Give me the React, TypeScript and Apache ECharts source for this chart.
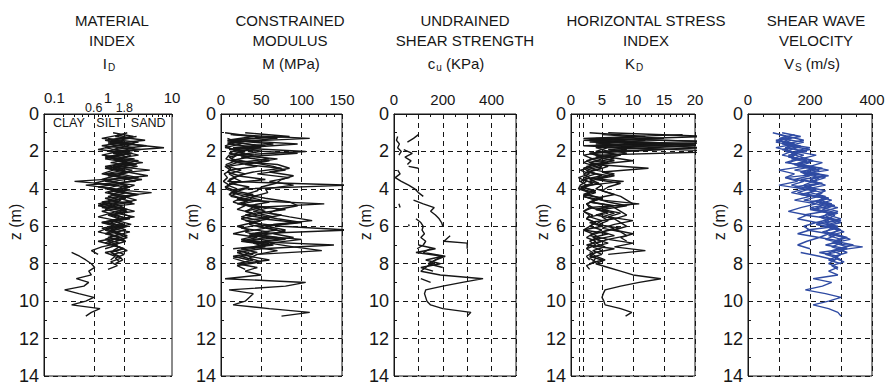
import React, { useEffect, useRef } from "react";
import * as echarts from "echarts";

const FONT = '"Liberation Sans", Arial, Helvetica, sans-serif';
const INK = "#161616";
const BLUE = "#2f4ba3";

// ---- depths of the soundings (m) ----
const DEPTH_S1 = [1.0, 1.2, 1.4, 1.6, 1.8, 2.0, 2.2, 2.4, 2.6, 2.8, 3.0, 3.2, 3.4, 3.6, 3.8, 4.0, 4.2, 4.4, 4.6, 4.8, 5.0, 5.2, 5.4, 5.6, 5.8, 6.0, 6.2, 6.4, 6.6, 6.8, 7.0, 7.2, 7.4, 7.6, 7.8, 8.0];
const DEPTH_S2 = [1.1, 1.3, 1.5, 1.7, 1.9, 2.1, 2.3, 2.5, 2.7, 2.9, 3.1, 3.3, 3.5, 3.7, 3.9, 4.1, 4.3, 4.5, 4.7, 4.9, 5.1, 5.3, 5.5, 5.7, 5.9, 6.1, 6.3, 6.5, 6.7, 6.9, 7.1, 7.3, 7.5];
const DEPTH_S3 = [1.0, 1.2, 1.4, 1.6, 1.8, 2.0, 2.2, 2.4, 2.6, 2.8, 3.0, 3.2, 3.4, 3.6, 3.8, 4.0, 4.2, 4.4, 4.6, 4.8, 5.0, 5.2, 5.4, 5.6, 5.8, 6.0, 6.2, 6.4, 6.6, 6.8, 7.0, 7.2];
const DEPTH_S4 = [1.3, 1.5, 1.7, 1.9, 2.1, 2.3, 2.5, 2.7, 2.9, 3.1, 3.3, 3.5, 3.7, 3.9, 4.1, 4.3, 4.5, 4.7, 4.9, 5.1, 5.3, 5.5, 5.7, 5.9, 6.1, 6.3, 6.5, 6.7, 6.9, 7.1, 7.3, 7.5, 7.7, 7.9, 8.1, 8.3];
const DEPTH_S5 = [1.2, 1.4, 1.6, 1.8, 2.0, 2.2, 2.4, 2.6, 2.8, 3.0, 3.2, 3.4, 3.6, 3.8, 4.0, 4.2, 4.4, 4.6, 4.8, 5.0, 5.2, 5.4, 5.6, 5.8, 6.0, 6.2, 6.4, 6.6, 6.8];
const DEPTH_S6 = [7.4, 7.6, 7.8, 8.0, 8.2, 8.4, 8.6, 8.8, 9.0, 9.2, 9.4, 9.6, 9.8, 10.0, 10.2, 10.4, 10.6, 10.8];
const DEPTH_S7 = [1.1, 1.3, 1.5, 1.7, 1.9, 2.1, 2.3, 2.5, 2.7, 2.9, 3.1, 3.3, 3.5, 3.7, 3.9, 4.1, 4.3, 4.5, 4.7, 4.9, 5.1, 5.3, 5.5, 5.7, 5.9, 6.1, 6.3, 6.5, 6.7, 6.9, 7.1, 7.3, 7.5, 7.7, 7.9];
const DEPTH_S8 = [1.4, 1.6, 1.8, 2.0, 2.2, 2.4, 2.6, 2.8, 3.0, 3.2, 3.4, 3.6, 3.8, 4.0, 4.2, 4.4, 4.6, 4.8, 5.0, 5.2, 5.4, 5.6, 5.8, 6.0, 6.2, 6.4, 6.6, 6.8, 7.0, 7.2, 7.4, 7.6, 7.8];

// ---- Material index I_D ----
const ID_S1 = [1.2, 2.5, 0.9, 2.0, 7.5, 1.1, 1.8, 0.9, 2.2, 1.3, 4.5, 1.0, 2.4, 0.3, 1.5, 0.9, 4.8, 1.6, 1.0, 2.6, 0.8, 1.9, 1.2, 2.2, 0.9, 1.8, 1.1, 1.6, 1.0, 1.9, 1.2, 1.7, 1.1, 1.5, 1.7, 1.3];
const ID_S2 = [1.6, 0.8, 3.0, 1.2, 0.7, 2.4, 1.0, 3.0, 1.4, 0.9, 2.0, 4.2, 1.1, 0.6, 2.1, 1.3, 2.8, 0.9, 1.5, 0.7, 1.8, 1.1, 0.7, 1.4, 2.3, 1.0, 0.7, 1.3, 0.9, 1.5, 0.8, 0.55, 0.7];
const ID_S3 = [2.0, 1.3, 3.8, 1.0, 2.6, 1.5, 0.8, 2.6, 1.1, 2.9, 1.2, 0.8, 1.7, 0.9, 2.6, 1.8, 1.0, 2.2, 1.3, 0.7, 1.6, 2.6, 1.0, 1.5, 0.8, 2.0, 1.3, 0.9, 1.6, 1.0, 1.4, 0.9];
const ID_S4 = [1.0, 1.8, 0.8, 3.2, 1.2, 2.0, 1.3, 2.5, 1.0, 2.2, 1.3, 0.8, 1.6, 0.7, 1.8, 1.1, 1.9, 0.8, 1.3, 0.9, 1.6, 2.3, 1.2, 1.8, 0.8, 1.3, 2.0, 1.2, 0.9, 1.5, 2.0, 1.2, 1.6, 1.1, 1.4, 1.0];
const ID_S5 = [2.8, 1.1, 2.2, 0.9, 1.7, 3.0, 1.2, 1.9, 0.9, 2.4, 1.5, 3.0, 1.2, 2.0, 1.4, 0.9, 1.7, 2.8, 1.2, 1.8, 0.8, 1.4, 1.9, 1.1, 1.6, 0.9, 1.4, 2.0, 1.3];
const ID_S6 = [0.27, 0.36, 0.45, 0.55, 0.62, 0.5, 0.55, 0.32, 0.5, 0.42, 0.21, 0.35, 0.6, 0.45, 0.27, 0.75, 0.55, 0.45];
const ID_S7 = [1.4, 2.2, 1.0, 4.0, 1.3, 2.0, 0.9, 1.7, 2.8, 1.2, 2.0, 1.0, 3.4, 1.4, 2.2, 1.1, 3.0, 1.5, 2.4, 1.0, 2.0, 1.3, 2.6, 1.1, 1.7, 1.0, 2.2, 1.3, 1.8, 1.0, 1.5, 1.2, 1.8, 1.3, 1.5];
const ID_S8 = [1.1, 2.6, 1.5, 1.0, 2.3, 1.4, 3.5, 1.2, 1.8, 0.9, 1.6, 2.7, 0.45, 1.3, 2.0, 1.0, 1.6, 0.8, 1.4, 2.0, 1.1, 1.7, 0.8, 1.3, 1.9, 1.0, 1.5, 0.7, 1.2, 1.8, 0.9, 1.3, 1.1];

// ---- Constrained modulus M (MPa) ----
const M_S1 = [30, 85, 10, 65, 15, 105, 20, 12, 40, 8, 25, 10, 18, 8, 160, 30, 15, 45, 20, 128, 40, 55, 30, 60, 35, 75, 160, 40, 70, 30, 140, 50, 20, 35, 60, 25];
const M_S2 = [15, 110, 8, 55, 20, 10, 35, 12, 70, 85, 60, 90, 75, 68, 50, 45, 30, 55, 85, 95, 70, 60, 85, 113, 65, 55, 80, 45, 100, 60, 90, 125, 45];
const M_S3 = [5, 40, 8, 25, 5, 30, 10, 6, 20, 5, 12, 4, 8, 3, 10, 6, 20, 12, 35, 20, 50, 30, 45, 25, 40, 20, 35, 15, 45, 25, 60, 15];
const M_S4 = [8, 20, 5, 15, 30, 10, 18, 6, 12, 8, 22, 10, 15, 5, 18, 10, 25, 15, 30, 20, 40, 25, 50, 35, 55, 30, 45, 25, 60, 40, 70, 45, 35, 50, 20, 30];
const M_S5 = [60, 15, 95, 30, 50, 20, 70, 40, 65, 80, 45, 85, 60, 90, 55, 58, 40, 35, 25, 40, 30, 45, 70, 100, 55, 80, 65, 90, 50];
const M_S6 = [35, 25, 40, 20, 45, 30, 50, 5, 105, 80, 10, 40, 35, 30, 15, 60, 110, 75];
const M_S7 = [12, 70, 20, 45, 10, 95, 25, 60, 30, 75, 40, 20, 55, 10, 35, 15, 40, 20, 60, 35, 80, 45, 65, 30, 50, 25, 60, 35, 80, 40, 55, 20, 40, 15, 30];
const M_S8 = [25, 8, 50, 15, 35, 60, 20, 45, 10, 30, 15, 25, 8, 20, 12, 30, 50, 25, 60, 40, 75, 50, 95, 45, 70, 35, 55, 30, 65, 25, 45, 15, 35];

// ---- Undrained shear strength c_u (kPa): short segments ----
const CU_SEGMENTS: { depth: number[]; value: number[] }[] = [
  { depth: [1.1, 1.3, 1.5], value: [100, 80, 55] },
  { depth: [1.2, 1.4, 1.6, 1.8, 2.0, 2.2], value: [15, 10, 22, 15, 30, 20] },
  { depth: [1.9, 2.1, 2.3, 2.5, 2.7], value: [40, 75, 45, 70, 55] },
  { depth: [2.8, 2.9], value: [60, 100] },
  { depth: [3.0, 3.2, 3.4, 3.6, 3.8, 4.0, 4.2, 4.4], value: [15, 25, 5, 30, 60, 85, 100, 120] },
  { depth: [4.6, 4.8, 5.0, 5.2, 5.4, 5.6, 5.8, 6.0], value: [80, 120, 165, 150, 170, 185, 195, 200] },
  { depth: [4.8, 5.0], value: [20, 25] },
  { depth: [5.9, 6.0], value: [60, 62] },
  { depth: [5.6, 5.8, 6.0, 6.2, 6.4, 6.6, 6.8, 7.0, 7.2], value: [90, 110, 120, 115, 125, 110, 130, 120, 95] },
  { depth: [6.5, 6.8, 6.9, 7.2], value: [230, 205, 300, 300] },
  { depth: [7.0, 7.2, 7.4, 7.6, 7.8, 8.0, 8.2, 8.4], value: [100, 170, 90, 200, 130, 190, 110, 160] },
  { depth: [7.2, 7.4, 7.6, 7.8, 8.0, 8.2], value: [150, 120, 210, 170, 140, 200] },
  { depth: [7.6, 7.8, 8.0, 8.2, 8.4, 8.6, 8.8, 9.0, 9.2, 9.4, 9.6, 9.8, 10.0, 10.2, 10.4, 10.6, 10.8], value: [200, 170, 150, 130, 110, 190, 365, 280, 200, 130, 125, 130, 135, 150, 200, 315, 300] },
  { depth: [8.8, 9.0], value: [110, 150] },
];

// ---- Horizontal stress index K_D ----
const KD_S1 = [6, 22, 3, 14, 8, 25, 4, 7, 3, 5, 2.5, 4, 2, 8.5, 3, 1.5, 4, 2, 5, 11, 3, 6, 4, 7, 3, 5, 2, 6, 3.5, 5, 2.5, 7, 4, 3, 5, 3];
const KD_S2 = [18, 2, 25, 5, 9, 3, 6, 10, 4, 12.5, 5, 7, 4, 8, 6, 5, 7, 4, 6, 9, 5, 8, 6, 10, 7, 5, 8, 9, 6, 10, 7, 12, 6];
const KD_S3 = [3, 12, 2, 20, 4, 6, 2, 3.5, 2, 4, 1.5, 3, 1.2, 2.5, 1.5, 1.2, 3, 2, 4, 2.5, 3, 2, 3.5, 2.5, 4, 3, 2, 3.5, 2.5, 4, 3, 2.5];
const KD_S4 = [4, 25, 2, 15, 3, 5, 2.5, 4, 2, 3, 5, 2, 3.5, 1.5, 4, 2.5, 5, 3, 6.5, 4, 7, 5, 6, 4.5, 7, 5, 3, 6, 4, 5.5, 3.5, 5, 3, 4, 2.5, 3];
const KD_S5 = [10, 3, 20, 6, 4, 8, 5, 3, 6, 4, 7, 5, 3, 5, 4, 6, 8, 9, 10, 7, 8, 9, 7, 8, 9, 7, 10, 8, 9];
const KD_S6 = [3, 4, 5.5, 4, 6, 8, 10, 14.5, 11, 8, 5.5, 5.2, 5, 5.3, 5.5, 8, 9.8, 8.8];
const KD_S7 = [5, 15, 3, 20, 6, 9, 4, 7, 3, 5, 2.5, 6, 3, 4.5, 2, 3.5, 2, 5, 3, 7, 4, 6, 3, 5, 4, 8, 5, 7, 4, 6, 3.5, 5, 3, 4, 3.5];
const KD_S8 = [12, 4, 22, 5, 8, 3, 6, 2.5, 4, 2, 3, 1.5, 2.5, 1.8, 3, 2, 4, 2.5, 3.5, 2, 3, 2.5, 4, 3, 5, 3.5, 4.5, 3, 4, 2.5, 3.5, 2.5, 3];

// ---- Shear wave velocity V_s (m/s) ----
const VS_S1 = [110, 170, 90, 150, 120, 190, 130, 160, 120, 210, 150, 230, 120, 180, 140, 200, 160, 230, 180, 270, 200, 250, 180, 270, 220, 290, 190, 260, 230, 300, 250, 320, 230, 290, 260, 300];
const VS_S2 = [150, 100, 180, 130, 200, 140, 170, 210, 160, 240, 190, 260, 170, 230, 150, 210, 190, 250, 220, 280, 200, 260, 240, 290, 220, 270, 250, 300, 330, 270, 370, 280, 250];
const VS_S3 = [80, 130, 100, 150, 90, 140, 110, 170, 130, 180, 100, 150, 120, 160, 100, 180, 140, 200, 150, 220, 170, 130, 190, 160, 220, 180, 200, 160, 230, 190, 160, 200];
const VS_S4 = [120, 90, 150, 110, 160, 130, 190, 150, 220, 170, 250, 200, 230, 190, 250, 220, 260, 230, 280, 240, 290, 250, 300, 260, 280, 310, 260, 300, 280, 320, 270, 300, 280, 310, 270, 290];
const VS_S5 = [130, 180, 120, 200, 150, 220, 170, 240, 200, 260, 180, 230, 210, 250, 190, 240, 220, 270, 230, 290, 240, 280, 260, 300, 250, 290, 270, 320, 280];
const VS_S6 = [170, 230, 280, 260, 290, 260, 290, 210, 270, 240, 185, 250, 300, 260, 210, 260, 290, 300];
const VS_S7 = [100, 140, 110, 170, 120, 160, 140, 190, 150, 220, 170, 200, 150, 240, 180, 220, 170, 260, 200, 240, 210, 280, 230, 260, 220, 290, 240, 280, 250, 300, 270, 310, 250, 290, 270];
const VS_S8 = [140, 110, 160, 120, 180, 140, 200, 160, 230, 190, 250, 210, 180, 220, 200, 250, 230, 270, 240, 290, 260, 300, 250, 280, 300, 260, 310, 280, 340, 290, 320, 280, 300];

// ---- axis settings ----
const ID_MINOR_TICKS = [0.1, 0.2, 0.3, 0.4, 0.5, 0.6, 0.7, 0.8, 0.9, 1, 2, 3, 4, 5, 6, 7, 8, 9, 10];
const ID_ZONE_LIMITS = [0.6, 1.8];
const ID_ZONE_NAMES = ["CLAY", "SILT", "SAND"];
const KD_REF_LINES = [1.4, 1.9];

const TITLES = [
  ["MATERIAL", "INDEX", "{a|I}{b|D}"],
  ["CONSTRAINED", "MODULUS", "{a|M (MPa)}"],
  ["UNDRAINED", "SHEAR STRENGTH", "{a|c}{b|u}{a| (KPa)}"],
  ["HORIZONTAL STRESS", "INDEX", "{a|K}{b|D}"],
  ["SHEAR WAVE", "VELOCITY", "{a|V}{b|S}{a| (m/s)}"],
];
const TITLE_CX = [112, 290, 465, 646, 816];
const SYMBOL_CX = [109, 291, 456, 634, 812];

const PANEL_LEFT = [44, 221, 394, 571, 748];
const PANEL_WIDTH = [128, 121, 122, 124, 124];
const PLOT_TOP = 114;
const PLOT_HEIGHT = 264;

const DASH = [5, 4];

function profile(xi: number, vals: number[], depths: number[], color: string, extra: any = {}) {
  return {
    type: "line",
    xAxisIndex: xi,
    yAxisIndex: xi,
    data: vals.map((v, i) => [v, depths[i]]),
    symbol: "none",
    showSymbol: false,
    clip: true,
    silent: true,
    lineStyle: { color, width: 1.4 },
    itemStyle: { color },
    emphasis: { disabled: true },
    z: 3,
    ...extra,
  };
}

function refLines(values: number[]) {
  return {
    silent: true,
    symbol: "none",
    label: { show: false },
    lineStyle: { color: INK, type: DASH, width: 1 },
    emphasis: { disabled: true },
    data: values.map((v) => ({ xAxis: v })),
  };
}

export default function App() {
  const ref = useRef<HTMLDivElement>(null);

  useEffect(() => {
    if (!ref.current) return;
    const chart = echarts.init(ref.current, undefined, { renderer: "svg" });

    const labelStyle = { color: INK, fontFamily: FONT, fontSize: 15 };
    const grids = PANEL_LEFT.map((l, i) => ({
      left: l,
      top: PLOT_TOP,
      width: PANEL_WIDTH[i],
      height: PLOT_HEIGHT,
      show: true,
      borderColor: INK,
      borderWidth: 1,
      backgroundColor: "transparent",
    }));

    const yAxes = PANEL_LEFT.map((_, i) => ({
      gridIndex: i,
      type: "value",
      inverse: true,
      min: 0,
      max: 14,
      interval: 2,
      axisLine: { show: true, lineStyle: { color: INK, width: 1 } },
      axisTick: { show: true, inside: true, length: 4, lineStyle: { color: INK } },
      minorTick: { show: true, splitNumber: 2, length: 3, lineStyle: { color: INK } },
      splitLine: { show: true, lineStyle: { color: INK, type: DASH, width: 1 } },
      axisLabel: { ...labelStyle, fontSize: 18, margin: 5 },
    }));

    const topAxis = (i: number, max: number, interval: number, minorSplit: number, fmt?: (v: number) => string) => ({
      gridIndex: i,
      type: "value",
      position: "top",
      min: 0,
      max,
      interval,
      axisLine: { show: true, lineStyle: { color: INK, width: 1 } },
      axisTick: { show: true, inside: true, length: 4, lineStyle: { color: INK } },
      minorTick: { show: true, splitNumber: minorSplit, length: 3, lineStyle: { color: INK } },
      splitLine: { show: true, lineStyle: { color: INK, type: DASH, width: 1 } },
      axisLabel: { ...labelStyle, margin: 7, formatter: fmt },
    });

    const xAxes = [
      {
        gridIndex: 0,
        type: "log",
        logBase: 10,
        position: "top",
        min: 0.1,
        max: 10,
        axisLine: { show: true, lineStyle: { color: INK, width: 1 } },
        axisTick: { show: true, inside: true, length: 3, customValues: ID_MINOR_TICKS, lineStyle: { color: INK } },
        splitLine: { show: false },
        axisLabel: { ...labelStyle, margin: 9, alignMinLabel: "left", formatter: (v: number) => String(v) },
      },
      topAxis(1, 150, 50, 5),
      topAxis(2, 500, 100, 2, (v: number) => (v % 200 === 0 ? String(v) : "")),
      topAxis(3, 20, 5, 5),
      topAxis(4, 400, 100, 2, (v: number) => (v % 200 === 0 ? String(v) : "")),
    ];

    const series: any[] = [
      profile(0, ID_S1, DEPTH_S1, INK, { markLine: refLines(ID_ZONE_LIMITS) }),
      profile(0, ID_S2, DEPTH_S2, INK),
      profile(0, ID_S3, DEPTH_S3, INK),
      profile(0, ID_S4, DEPTH_S4, INK),
      profile(0, ID_S5, DEPTH_S5, INK),
      profile(0, ID_S6, DEPTH_S6, INK),
      profile(0, ID_S7, DEPTH_S7, INK),
      profile(0, ID_S8, DEPTH_S8, INK),
      profile(1, M_S1, DEPTH_S1, INK),
      profile(1, M_S2, DEPTH_S2, INK),
      profile(1, M_S3, DEPTH_S3, INK),
      profile(1, M_S4, DEPTH_S4, INK),
      profile(1, M_S5, DEPTH_S5, INK),
      profile(1, M_S6, DEPTH_S6, INK),
      profile(1, M_S7, DEPTH_S7, INK),
      profile(1, M_S8, DEPTH_S8, INK),
      ...CU_SEGMENTS.map((s) => profile(2, s.value, s.depth, INK)),
      profile(3, KD_S1, DEPTH_S1, INK, { markLine: refLines(KD_REF_LINES) }),
      profile(3, KD_S2, DEPTH_S2, INK),
      profile(3, KD_S3, DEPTH_S3, INK),
      profile(3, KD_S4, DEPTH_S4, INK),
      profile(3, KD_S5, DEPTH_S5, INK),
      profile(3, KD_S6, DEPTH_S6, INK),
      profile(3, KD_S7, DEPTH_S7, INK),
      profile(3, KD_S8, DEPTH_S8, INK),
      profile(4, VS_S1, DEPTH_S1, BLUE),
      profile(4, VS_S2, DEPTH_S2, BLUE),
      profile(4, VS_S3, DEPTH_S3, BLUE),
      profile(4, VS_S4, DEPTH_S4, BLUE),
      profile(4, VS_S5, DEPTH_S5, BLUE),
      profile(4, VS_S6, DEPTH_S6, BLUE),
      profile(4, VS_S7, DEPTH_S7, BLUE),
      profile(4, VS_S8, DEPTH_S8, BLUE),
    ];

    chart.setOption({
      animation: false,
      backgroundColor: "#ffffff",
      grid: grids,
      xAxis: xAxes,
      yAxis: yAxes,
      series,
    });

    // text annotations placed through the axis scales
    const graphics: any[] = [];
    TITLES.forEach((lines, i) => {
      graphics.push({ type: "text", x: TITLE_CX[i], y: 20, silent: true, style: { text: lines[0], fontFamily: FONT, fontSize: 15, fill: INK, align: "center", verticalAlign: "middle" } });
      graphics.push({ type: "text", x: TITLE_CX[i], y: 40, silent: true, style: { text: lines[1], fontFamily: FONT, fontSize: 15, fill: INK, align: "center", verticalAlign: "middle" } });
      graphics.push({
        type: "text",
        x: SYMBOL_CX[i],
        y: 63,
        silent: true,
        style: {
          text: lines[2],
          fill: INK,
          align: "center",
          verticalAlign: "middle",
          rich: {
            a: { fontFamily: FONT, fontSize: 15, fill: INK, color: INK },
            b: { fontFamily: FONT, fontSize: 10, fill: INK, color: INK, padding: [9, 0, 0, 1] },
          },
        },
      });
      graphics.push({
        type: "text",
        x: PANEL_LEFT[i] - 29,
        y: 222,
        rotation: Math.PI / 2,
        silent: true,
        style: { text: "z (m)", fontFamily: FONT, fontSize: 16, fill: INK, align: "center", verticalAlign: "middle" },
      });
    });

    ID_ZONE_LIMITS.forEach((v) => {
      const px = chart.convertToPixel({ xAxisIndex: 0 }, v) as number;
      graphics.push({ type: "text", x: px, y: 108, silent: true, style: { text: String(v), fontFamily: FONT, fontSize: 12.5, fill: INK, align: "center", verticalAlign: "middle" } });
    });
    const zoneCenters = [
      Math.sqrt(0.1 * ID_ZONE_LIMITS[0]),
      Math.sqrt(ID_ZONE_LIMITS[0] * ID_ZONE_LIMITS[1]),
      Math.sqrt(ID_ZONE_LIMITS[1] * 10),
    ];
    ID_ZONE_NAMES.forEach((name, k) => {
      const px = chart.convertToPixel({ xAxisIndex: 0 }, zoneCenters[k]) as number;
      graphics.push({ type: "text", x: px, y: 123, silent: true, style: { text: name, fontFamily: FONT, fontSize: 12.5, fill: INK, align: "center", verticalAlign: "middle" } });
    });

    chart.setOption({ graphic: graphics });

    return () => chart.dispose();
  }, []);

  return <div ref={ref} style={{ position: "absolute", left: 0, top: 0, width: 891, height: 385 }} />;
}
